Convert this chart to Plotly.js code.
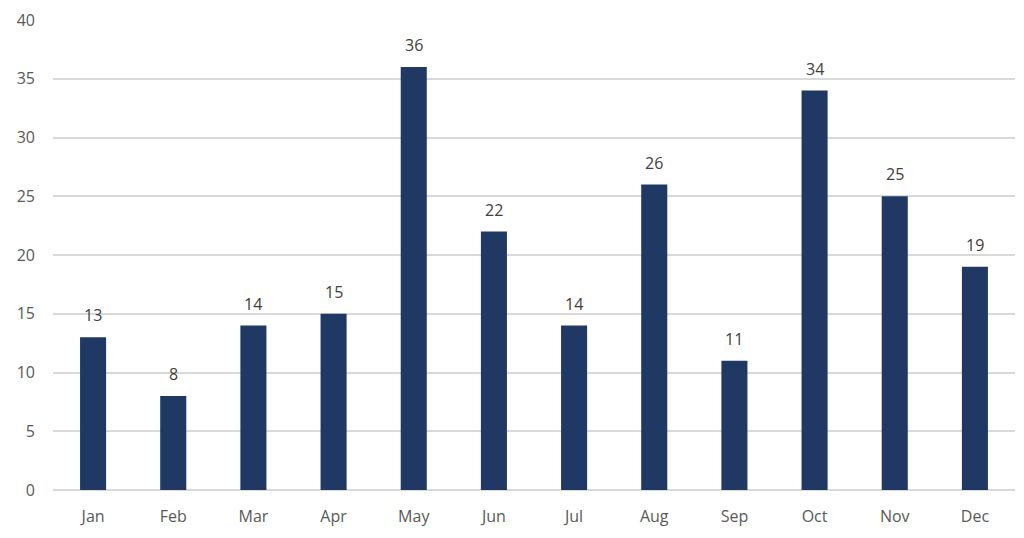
<!DOCTYPE html>
<html>
<head>
<meta charset="utf-8">
<script src="https://cdn.plot.ly/plotly-3.0.1.min.js"></script>
<style>html,body{margin:0;padding:0;background:#fff;}#chart{width:1024px;height:538px;}</style>
</head>
<body>
<div id="chart"></div>
<script>
const months = ["Jan","Feb","Mar","Apr","May","Jun","Jul","Aug","Sep","Oct","Nov","Dec"];
const values = [13, 8, 14, 15, 36, 22, 14, 26, 11, 34, 25, 19];
const yTicks = [0, 5, 10, 15, 20, 25, 30, 35, 40];

const FONT = "Open Sans, Liberation Sans, sans-serif";

const trace = {
  type: "bar",
  x: months,
  y: values,
  marker: {color: "#1F3864", line: {width: 0}},
  hoverinfo: "x+y"
};

const annotations = months.map((m, i) => ({
  x: m, y: values[i], xref: "x", yref: "y",
  text: String(values[i]),
  showarrow: false,
  yanchor: "bottom",
  yshift: 9,
  font: {family: FONT, size: 16, color: "#404040"}
}));

const layout = {
  width: 1024, height: 538,
  margin: {l: 53, r: 9, t: 20, b: 48},
  paper_bgcolor: "#ffffff",
  plot_bgcolor: "#ffffff",
  bargap: 0.675,
  showlegend: false,
  font: {family: FONT, size: 16, color: "#595959"},
  annotations: annotations,
  xaxis: {
    type: "category",
    showgrid: false,
    showline: false,
    zeroline: false,
    ticks: "",
    ticklabelstandoff: 15,
    tickfont: {size: 16, color: "#595959"}
  },
  yaxis: {
    range: [0, 40],
    tickvals: yTicks,
    ticktext: yTicks.map(String),
    showgrid: true,
    gridcolor: "#d9d9d9",
    gridwidth: 2,
    zeroline: true,
    zerolinecolor: "#d9d9d9",
    zerolinewidth: 2,
    showline: false,
    ticks: "",
    ticklabelstandoff: 17,
    tickfont: {size: 16, color: "#595959"}
  }
};

Plotly.newPlot("chart", [trace], layout, {displayModeBar: false, staticPlot: true});
</script>
</body>
</html>
